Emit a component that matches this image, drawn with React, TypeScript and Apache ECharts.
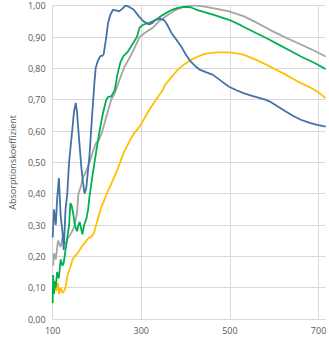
import React, { useEffect, useRef } from "react";
import * as echarts from "echarts";

const xTicks = [100, 300, 500, 700];

const blueX = [100,103,107,110,114,118,122,125,129,133,137,144,148,152,155,157,161,165,168,172,176,178,183,189,194,197,201,204,208,212,215,220,225,230,236,243,250,257,264,272,283,295,305,312,318,325,332,343,350,354,360,368,380,390,400,411,422,433,447,461,480,497,515,532,550,568,580,590,608,626,643,660,680,697,716];
const blueY = [0.26,0.35,0.30,0.38,0.45,0.33,0.28,0.22,0.35,0.40,0.50,0.60,0.66,0.69,0.66,0.62,0.55,0.48,0.44,0.40,0.42,0.45,0.52,0.65,0.75,0.80,0.82,0.83,0.84,0.84,0.845,0.89,0.945,0.97,0.987,0.985,0.982,0.99,1.0,0.997,0.987,0.965,0.95,0.945,0.94,0.945,0.955,0.958,0.955,0.95,0.935,0.913,0.89,0.87,0.845,0.822,0.807,0.795,0.787,0.78,0.76,0.742,0.73,0.72,0.712,0.705,0.70,0.694,0.678,0.662,0.648,0.636,0.626,0.62,0.614];

const greenX = [100,101,103,105,107,110,114,118,122,125,129,133,137,140,143,146,150,155,158,161,164,167,171,176,180,183,189,193,200,207,214,221,226,232,236,240,246,253,260,268,279,290,296,305,318,333,348,369,383,397,411,425,460,498,525,553,582,611,635,660,690,716];
const greenY = [0.05,0.14,0.08,0.12,0.10,0.15,0.13,0.19,0.17,0.18,0.22,0.26,0.30,0.37,0.36,0.34,0.30,0.28,0.30,0.31,0.29,0.27,0.30,0.32,0.35,0.39,0.45,0.486,0.55,0.61,0.66,0.70,0.71,0.71,0.72,0.73,0.78,0.82,0.84,0.85,0.875,0.90,0.93,0.94,0.945,0.955,0.97,0.987,0.993,0.996,0.995,0.987,0.972,0.955,0.937,0.917,0.897,0.875,0.857,0.838,0.818,0.798];

const grayX = [101,103,107,112,118,122,125,130,135,140,144,150,155,158,163,168,175,183,190,197,204,210,220,232,240,250,262,272,283,296,310,326,340,354,375,395,412,425,440,470,498,532,560,590,620,654,685,716];
const grayY = [0.17,0.21,0.19,0.25,0.23,0.26,0.25,0.24,0.26,0.27,0.28,0.30,0.34,0.40,0.42,0.45,0.47,0.50,0.53,0.56,0.57,0.59,0.64,0.70,0.72,0.76,0.805,0.83,0.86,0.90,0.915,0.93,0.95,0.965,0.985,0.996,1.0,1.0,0.998,0.99,0.982,0.966,0.946,0.923,0.902,0.88,0.86,0.838];

const yellowX = [100,103,108,112,114,118,122,126,129,133,136,140,145,150,156,161,168,176,182,187,193,200,210,218,225,235,247,260,275,285,296,307,318,333,348,354,368,382,396,412,428,446,470,498,515,532,558,583,605,626,643,660,680,697,716];
const yellowY = [0.083,0.115,0.09,0.115,0.08,0.10,0.083,0.09,0.10,0.135,0.15,0.166,0.19,0.20,0.21,0.22,0.235,0.25,0.26,0.262,0.274,0.31,0.358,0.385,0.41,0.44,0.48,0.53,0.572,0.595,0.614,0.64,0.668,0.70,0.73,0.748,0.772,0.795,0.812,0.827,0.838,0.847,0.851,0.851,0.848,0.843,0.828,0.811,0.795,0.78,0.766,0.753,0.74,0.726,0.705];

const zip = (xs: number[], ys: number[]) => xs.map((x, i) => [x, ys[i]]);

export default function App() {
  const ref = useRef<HTMLDivElement>(null);
  useEffect(() => {
    if (!ref.current) return;
    const chart = echarts.init(ref.current, undefined, { renderer: "svg" });
    const font = "'Open Sans', sans-serif";
    const mk = (name: string, color: string, xs: number[], ys: number[]) => ({
      name,
      type: "line",
      data: zip(xs, ys),
      showSymbol: false,
      symbol: "none",
      lineStyle: { color, width: 1.8 },
      itemStyle: { color },
    });
    chart.setOption({
      animation: false,
      grid: { left: 41.5, right: 0, top: 5.7, bottom: 21 },
      xAxis: {
        type: "value",
        min: xTicks[0],
        max: 716,
        interval: 200,
        axisLine: { show: true, lineStyle: { color: "#D9D9D9", width: 1 } },
        axisTick: { show: false },
        axisLabel: { color: "#595959", fontSize: 9, fontFamily: font, margin: 7, showMaxLabel: false },
        splitLine: { show: true, showMaxLine: false, lineStyle: { color: "#D9D9D9", width: 1 } },
      },
      yAxis: {
        type: "value",
        min: 0,
        max: 1,
        interval: 0.1,
        name: "Absorptionskoeffizient",
        nameLocation: "middle",
        nameGap: 30,
        nameTextStyle: { color: "#595959", fontSize: 9, fontFamily: font },
        axisLine: { show: false },
        axisTick: { show: false },
        axisLabel: {
          color: "#595959",
          fontSize: 9,
          fontFamily: font,
          margin: 7,
          formatter: (v: number) => v.toFixed(2).replace(".", ","),
        },
        splitLine: { show: true, lineStyle: { color: "#D9D9D9", width: 1 } },
      },
      series: [
        mk("Gelb", "#FFC000", yellowX, yellowY),
        mk("Grau", "#A5A5A5", grayX, grayY),
        mk("Grün", "#00B050", greenX, greenY),
        mk("Blau", "#4472A8", blueX, blueY),
      ],
    });
    return () => chart.dispose();
  }, []);
  return (
    <div
      ref={ref}
      style={{ position: "absolute", left: 0, top: 0, width: 329, height: 340 }}
    />
  );
}
